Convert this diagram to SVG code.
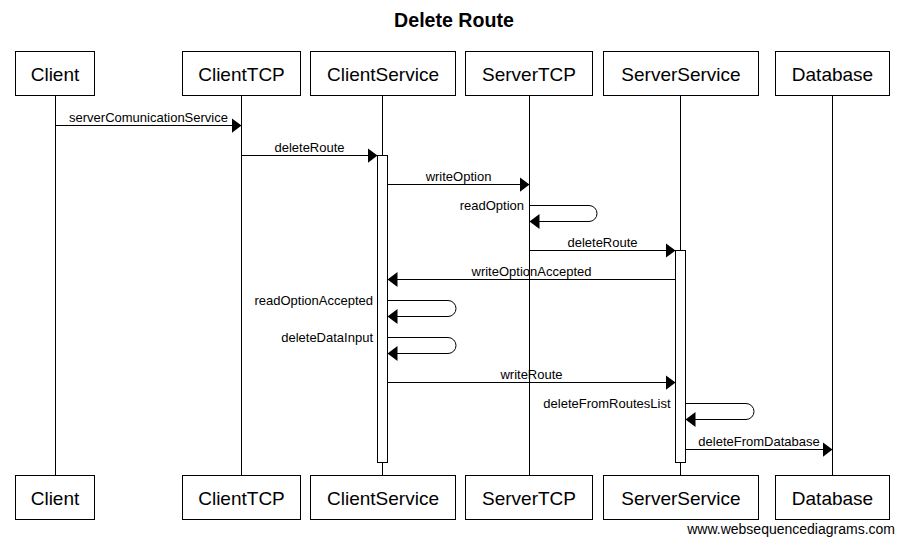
<svg xmlns="http://www.w3.org/2000/svg" width="904" height="545" viewBox="0 0 904 545">
<style>
.box{fill:#fff;stroke:#000;stroke-width:1}
.life{stroke:#000;stroke-width:1;fill:none}
.act{fill:#fff;stroke:#000;stroke-width:1}
.msg{stroke:#000;stroke-width:1;fill:none;marker-end:url(#ah)}
.pt{font-family:"Liberation Sans",Arial,sans-serif;font-size:19px;text-anchor:middle;fill:#000}
.ml{font-family:"Liberation Sans",Arial,sans-serif;font-size:13px;text-anchor:middle;fill:#000}
.sl{font-family:"Liberation Sans",Arial,sans-serif;font-size:13px;text-anchor:end;fill:#000}
</style>
<defs>
<marker id="ah" markerUnits="userSpaceOnUse" markerWidth="11" markerHeight="16" refX="10" refY="7.5" orient="auto">
<path d="M0,0 L10,7.5 L0,15 Z" fill="#000"/>
</marker>
</defs>
<rect width="904" height="545" fill="#fff"/>
<text x="454" y="27" font-family="'Liberation Sans',Arial,sans-serif" font-size="19.6" font-weight="bold" text-anchor="middle">Delete Route</text>

<g id="lifelines">
<line class="life" x1="55.5" y1="95.5" x2="55.5" y2="475.5"/>
<line class="life" x1="241.5" y1="95.5" x2="241.5" y2="475.5"/>
<line class="life" x1="382.5" y1="95.5" x2="382.5" y2="475.5"/>
<line class="life" x1="529.5" y1="95.5" x2="529.5" y2="475.5"/>
<line class="life" x1="680.5" y1="95.5" x2="680.5" y2="475.5"/>
<line class="life" x1="832.5" y1="95.5" x2="832.5" y2="475.5"/>
</g>

<g id="Client">
<rect class="box" x="15.5" y="51.5" width="79" height="44"/><text class="pt" x="55" y="80.5">Client</text>
<rect class="box" x="15.5" y="475.5" width="79" height="44"/><text class="pt" x="55" y="504.5">Client</text>
</g>
<g id="ClientTCP">
<rect class="box" x="182.5" y="51.5" width="118" height="44"/><text class="pt" x="241.5" y="80.5">ClientTCP</text>
<rect class="box" x="182.5" y="475.5" width="118" height="44"/><text class="pt" x="241.5" y="504.5">ClientTCP</text>
</g>
<g id="ClientService">
<rect class="box" x="310.5" y="51.5" width="145" height="44"/><text class="pt" x="383" y="80.5">ClientService</text>
<rect class="box" x="310.5" y="475.5" width="145" height="44"/><text class="pt" x="383" y="504.5">ClientService</text>
<rect class="act" x="377.5" y="155.5" width="10" height="307"/>
</g>
<g id="ServerTCP">
<rect class="box" x="465.5" y="51.5" width="127" height="44"/><text class="pt" x="529" y="80.5">ServerTCP</text>
<rect class="box" x="465.5" y="475.5" width="127" height="44"/><text class="pt" x="529" y="504.5">ServerTCP</text>
</g>
<g id="ServerService">
<rect class="box" x="603.5" y="51.5" width="155" height="44"/><text class="pt" x="681" y="80.5">ServerService</text>
<rect class="box" x="603.5" y="475.5" width="155" height="44"/><text class="pt" x="681" y="504.5">ServerService</text>
<rect class="act" x="675.5" y="250.5" width="10" height="212"/>
</g>
<g id="Database">
<rect class="box" x="775.5" y="51.5" width="114" height="44"/><text class="pt" x="832.5" y="80.5">Database</text>
<rect class="box" x="775.5" y="475.5" width="114" height="44"/><text class="pt" x="832.5" y="504.5">Database</text>
</g>

<g id="connectors">
<path class="msg" d="M55.5,125.5 H241.5"/>
<text class="ml" x="148.5" y="121.5">serverComunicationService</text>
<path class="msg" d="M241.5,155.5 H377.5"/>
<text class="ml" x="309.5" y="151.5">deleteRoute</text>
<path class="msg" d="M387.5,184.5 H529.5"/>
<text class="ml" x="458.5" y="180.5">writeOption</text>
<path class="msg" d="M529.5,205.5 H589 A8,8 0 0 1 589,221.5 H529.5"/>
<text class="sl" x="524" y="209.5">readOption</text>
<path class="msg" d="M529.5,250.5 H675.5"/>
<text class="ml" x="602.5" y="246.5">deleteRoute</text>
<path class="msg" d="M675.5,279.5 H387.5"/>
<text class="ml" x="531.5" y="275.5">writeOptionAccepted</text>
<path class="msg" d="M387.5,300.5 H448 A8,8 0 0 1 448,316.5 H387.5"/>
<text class="sl" x="373" y="304.5">readOptionAccepted</text>
<path class="msg" d="M387.5,337.5 H448 A8,8 0 0 1 448,353.5 H387.5"/>
<text class="sl" x="373" y="341.5">deleteDataInput</text>
<path class="msg" d="M387.5,382.5 H675.5"/>
<text class="ml" x="531.5" y="378.5">writeRoute</text>
<path class="msg" d="M685.5,403.5 H746 A8,8 0 0 1 746,419.5 H685.5"/>
<text class="sl" x="670.5" y="407.5">deleteFromRoutesList</text>
<path class="msg" d="M685.5,449.5 H832.5"/>
<text class="ml" x="759" y="445.5">deleteFromDatabase</text>
</g>

<text x="895" y="534" font-family="'Liberation Sans',Arial,sans-serif" font-size="14" text-anchor="end">www.websequencediagrams.com</text>
</svg>
